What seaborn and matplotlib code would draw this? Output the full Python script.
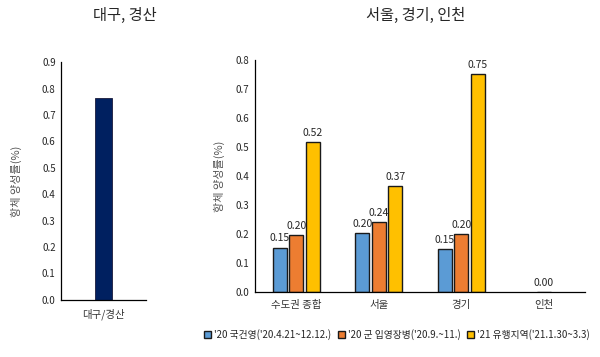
import numpy as np
import pandas as pd
import matplotlib
matplotlib.use("Agg")
import matplotlib.pyplot as plt
import seaborn as sns

sns.set_style("white")
plt.rcParams['font.family'] = ['Noto Sans CJK KR', 'DejaVu Sans']

# data
left_cat = ['대구/경산']
left_val = [0.765]

regions = ['수도권 종합', '서울', '경기', '인천']
series = ["'20 국건영('20.4.21~12.12.)", "'20 군 입영장병('20.9.~11.)", "'21 유행지역('21.1.30~3.3)"]
val_knhanes = [0.153, 0.203, 0.148, np.nan]
val_army = [0.197, 0.240, 0.200, 0.0]
val_2021 = [0.518, 0.365, 0.752, np.nan]
label_knhanes = ['0.15', '0.20', '0.15', '']
label_army = ['0.20', '0.24', '0.20', '0.00']
label_2021 = ['0.52', '0.37', '0.75', '']

colors = ['#5B9BD5', '#ED7D31', '#FFC000']

df = pd.DataFrame({
    'region': regions * 3,
    'series': [s for s in series for _ in regions],
    'value': val_knhanes + val_army + val_2021,
})

fig = plt.figure(figsize=(6, 3.57), dpi=100)
ax1 = fig.add_axes([0.102, 0.160, 0.141, 0.666])
ax2 = fig.add_axes([0.425, 0.182, 0.550, 0.650])

# left panel
sns.barplot(x=left_cat, y=left_val, ax=ax1, color='#002060', width=0.19,
            edgecolor='#1a1a3a', linewidth=0.6, saturation=1)
ax1.set_ylim(0, 0.9)
ax1.set_yticks(np.arange(0, 0.91, 0.1))
ax1.set_yticklabels([f'{v:.1f}' for v in np.arange(0, 0.91, 0.1)])
ax1.set_xlim(-0.5, 0.5)
ax1.set_ylabel('항체 양성률(%)', fontsize=8, color='#555555', labelpad=14)

# right panel
sns.barplot(data=df, x='region', y='value', hue='series', palette=colors,
            ax=ax2, width=0.6, gap=0.15, edgecolor='#1a1a1a', linewidth=1,
            saturation=1, legend=True)
ax2.set_ylim(0, 0.8)
ax2.set_yticks(np.arange(0, 0.81, 0.1))
ax2.set_yticklabels([f'{v:.1f}' for v in np.arange(0, 0.81, 0.1)])
ax2.set_ylabel('항체 양성률(%)', fontsize=8, color='#555555', labelpad=8)
ax2.set_xlabel('')
for cont, labs in zip(ax2.containers, [label_knhanes, label_army, label_2021]):
    for bar, lab in zip(cont, labs):
        if bar is None or not lab:
            continue
        ax2.annotate(lab, (bar.get_x() + bar.get_width() / 2, bar.get_height()),
                     xytext=(0, 3), textcoords='offset points',
                     ha='center', va='bottom', fontsize=7.5)

fig.text(0.208, 0.957, '대구, 경산', ha='center', va='center', fontsize=11)
fig.text(0.692, 0.957, '서울, 경기, 인천', ha='center', va='center', fontsize=11)

for ax in (ax1, ax2):
    for s in ('top', 'right'):
        ax.spines[s].set_visible(False)
    for s in ('left', 'bottom'):
        ax.spines[s].set_color('black')
        ax.spines[s].set_linewidth(0.9)
    ax.tick_params(axis='both', length=0, labelsize=7, pad=4)
    ax.tick_params(axis='x', labelsize=7.5, colors='#333333', pad=6)

handles, labels = ax2.get_legend_handles_labels()
ax2.get_legend().remove()
fig.legend(handles, labels, loc='center', bbox_to_anchor=(0.662, 0.062), ncol=3,
           frameon=False, fontsize=7, handlelength=0.7, handleheight=0.7,
           handletextpad=0.3, columnspacing=0.7)

fig.savefig('out.png', dpi=100)
